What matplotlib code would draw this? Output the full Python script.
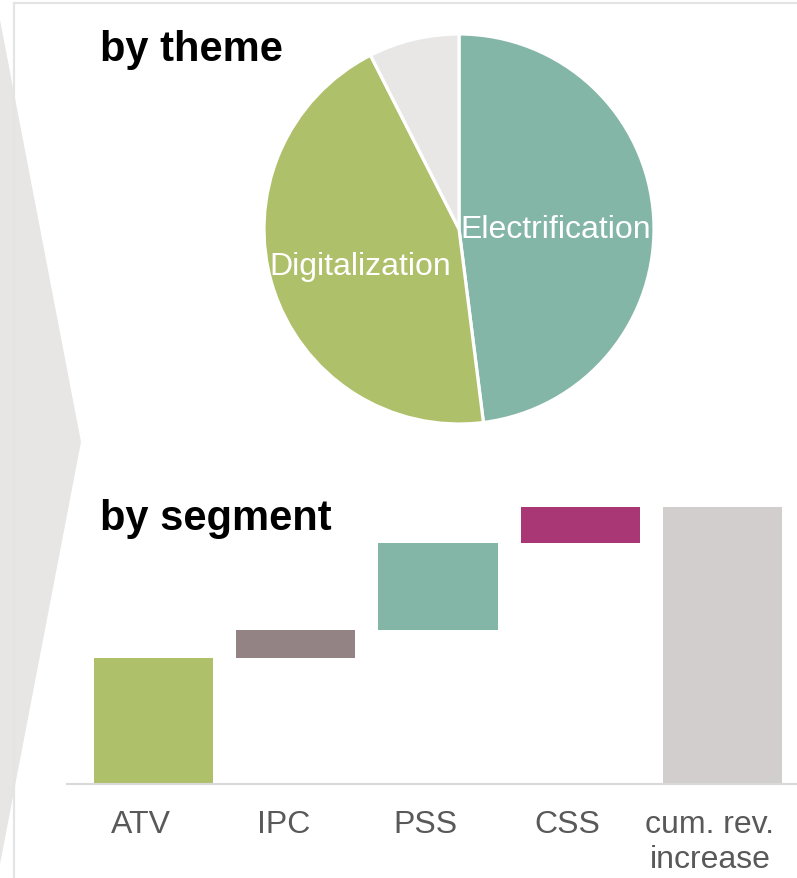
import matplotlib
matplotlib.use("Agg")
import matplotlib.pyplot as plt
from matplotlib.patches import Polygon
from matplotlib.lines import Line2D
from matplotlib.transforms import ScaledTranslation

plt.rcParams['font.family'] = ['Liberation Sans', 'DejaVu Sans']

# Revenue increase split by theme (share, %)
themes = ["Electrification", "Digitalization", ""]
theme_share = [48.0, 44.5, 7.5]
theme_colors = ["#84b6a8", "#aec06a", "#e8e7e5"]

# Revenue increase split by segment (waterfall, % of cumulative)
segments = ["ATV", "IPC", "PSS", "CSS", "cum. rev.\nincrease"]
segment_delta = [45.5, 10.0, 31.5, 13.0]
segment_colors = ["#aec06a", "#938385", "#84b6a8", "#a93776", "#d3cece"]

W, H = 797, 879
fig = plt.figure(figsize=(W / 100, H / 100), dpi=100)

def fig_rect(x0, y0, x1, y1):
    """Convert pixel box (top-left origin) to figure fraction rect."""
    return [x0 / W, 1 - y1 / H, (x1 - x0) / W, (y1 - y0) / H]

# Background frame and chevron
bg = fig.add_axes([0, 0, 1, 1])
bg.set_xlim(0, W)
bg.set_ylim(H, 0)
bg.axis("off")
bg.add_line(Line2D([14.5, 14.5], [4, H], color="#e4e4e4", lw=1.6))
bg.add_line(Line2D([14.5, W], [4, 4], color="#e4e4e4", lw=1.6))
bg.add_patch(Polygon([(-4, 0), (81, 443), (-4, 886)], closed=True,
                     facecolor="#e7e6e4", edgecolor="none"))

# Pie: share by theme
R = 195
cx, cy = 459, 230
axp = fig.add_axes(fig_rect(cx - R, cy - R, cx + R, cy + R))
axp.patch.set_alpha(0)
wedges, _ = axp.pie(theme_share, colors=theme_colors, startangle=90,
                    counterclock=False, radius=1.0,
                    wedgeprops=dict(edgecolor="white", linewidth=2.3))
axp.set_xlim(-1, 1)
axp.set_ylim(-1, 1)
axp.set_aspect("equal")
axp.axis("off")
axp.text(0.497, 0.0, themes[0], color="white", fontsize=23,
         ha="center", va="center", clip_on=False)
axp.text(-0.505, -0.188, themes[1], color="white", fontsize=23,
         ha="center", va="center", clip_on=False)

fig.text(100 / W, 1 - 61 / H, "by theme", fontsize=30, fontweight="bold",
         ha="left", va="baseline", color="black")

# Waterfall: contribution by segment
axw = fig.add_axes(fig_rect(67, 500, 797, 785))
axw.patch.set_alpha(0)
bottoms = []
acc = 0.0
for d in segment_delta:
    bottoms.append(acc)
    acc += d
heights = segment_delta + [acc]
bottoms = bottoms + [0.0]
xs = list(range(len(segments)))
axw.bar(xs, heights, bottom=bottoms, width=0.837, color=segment_colors,
        edgecolor="none")
axw.set_xlim(-0.608, 4.524)
axw.set_ylim(0, 102.9)
for s in ["top", "right", "left"]:
    axw.spines[s].set_visible(False)
axw.spines["bottom"].set_color("#d9d9d9")
axw.spines["bottom"].set_linewidth(1.5)
axw.set_yticks([])
axw.set_xticks(xs)
axw.set_xticklabels(segments, fontsize=23, color="#595959", linespacing=1.22)
axw.tick_params(axis="x", length=0, pad=18)
# category labels sit slightly left of the bar centres
shift = ScaledTranslation(-12.5 / 100, 0, fig.dpi_scale_trans)
for lbl in axw.get_xticklabels():
    lbl.set_transform(lbl.get_transform() + shift)

fig.text(100 / W, 1 - 530 / H, "by segment", fontsize=30, fontweight="bold",
         ha="left", va="baseline", color="black")

fig.savefig("out.png", dpi=100)
